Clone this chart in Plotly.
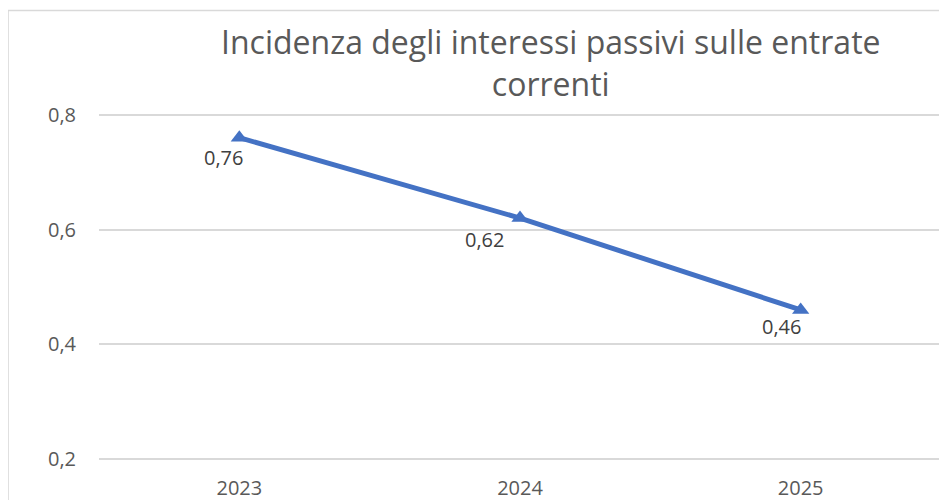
import plotly.graph_objects as go

years = ["2023", "2024", "2025"]
values = [0.76, 0.62, 0.46]
label_texts = ["0,76", "0,62", "0,46"]
y_ticks = [0.2, 0.4, 0.6, 0.8]
y_tick_labels = ["0,2", "0,4", "0,6", "0,8"]
title_text = "Incidenza degli interessi passivi sulle entrate<br>correnti"

BLUE = "#4472C4"
FONT = "Open Sans"

fig = go.Figure()
fig.add_trace(go.Scatter(
    x=years, y=values, mode="lines+markers",
    line=dict(color=BLUE, width=5),
    marker=dict(symbol="triangle-up", size=15, color=BLUE),
    hoverinfo="skip", showlegend=False,
))

label_shifts = [(-16, -20), (-36, -21), (-19, -17)]
for i, (y, t) in enumerate(zip(values, label_texts)):
    dx, dy = label_shifts[i]
    fig.add_annotation(x=i, y=y, xref="x", yref="y", text=t, showarrow=False,
                       xshift=dx, yshift=dy,
                       font=dict(family=FONT, size=20, color="#404040"))

fig.add_annotation(xref="paper", yref="paper", x=0.537, y=1.13, yanchor="middle",
                   text=title_text, showarrow=False, align="center",
                   font=dict(family=FONT, size=32, color="#595959"))

fig.add_shape(type="rect", xref="paper", yref="paper",
              x0=-0.108, x1=1.2, y0=-0.3, y1=1.277,
              line=dict(color="#D9D9D9", width=1.5), fillcolor="rgba(0,0,0,0)", layer="below")

fig.update_layout(
    width=939, height=492,
    margin=dict(l=91, r=6, t=101, b=35),
    paper_bgcolor="white", plot_bgcolor="white",
    separators=",.",
    xaxis=dict(type="category", range=[-0.5, 2.5], showgrid=False, showline=False,
               ticks="", ticklabelstandoff=9, automargin=False,
               tickfont=dict(family=FONT, size=20, color="#595959")),
    yaxis=dict(range=[0.19, 0.81], tickvals=y_ticks, ticktext=y_tick_labels,
               showgrid=True, gridcolor="#D9D9D9", gridwidth=1.5, zeroline=False,
               showline=False, ticks="", ticklabelstandoff=22, automargin=False,
               tickfont=dict(family=FONT, size=20, color="#595959")),
)

fig.write_html("out.html")
